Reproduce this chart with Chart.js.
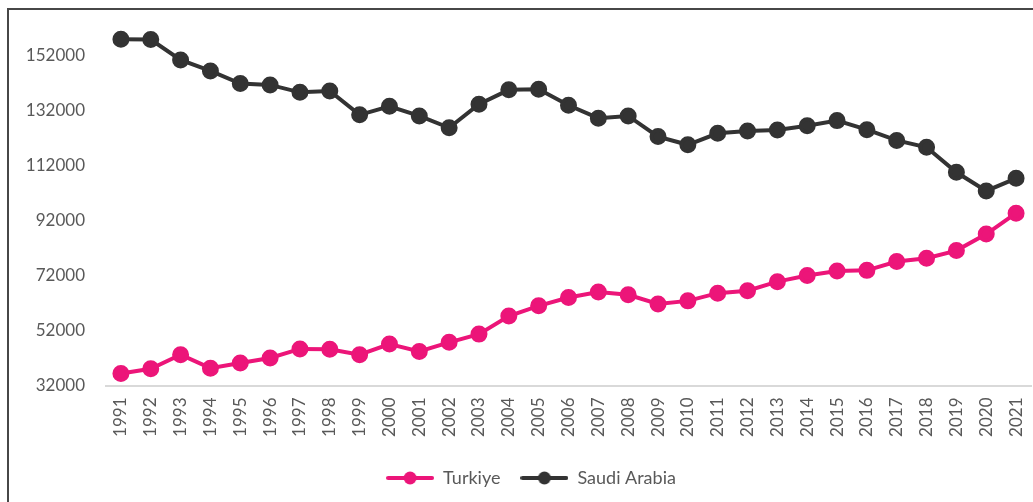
<!DOCTYPE html>
<html>
<head>
<meta charset="utf-8">
<script src="https://cdn.jsdelivr.net/npm/chart.js@4/dist/chart.umd.min.js"></script>
<style>
html,body{margin:0;padding:0;background:#fff;overflow:hidden;}
#wrap{position:relative;width:1033px;height:502px;overflow:hidden;}
canvas{display:block;}
</style>
</head>
<body>
<div id="wrap"><canvas id="c" width="1033" height="502"></canvas></div>
<script>
const years = ['1991','1992','1993','1994','1995','1996','1997','1998','1999','2000','2001','2002','2003','2004','2005','2006','2007','2008','2009','2010','2011','2012','2013','2014','2015','2016','2017','2018','2019','2020','2021'];
const turkiye = [36400,38100,43200,38300,40200,42000,45300,45200,43200,47100,44400,47700,50700,57300,61000,64000,66000,65000,61700,62800,65600,66500,69800,72000,73700,73900,77100,78300,81100,87100,94700];
const saudiArabia = [158000,157900,150500,146500,141900,141400,138700,139200,130500,133600,130100,125800,134400,139600,139800,134000,129300,130100,122600,119600,123800,124600,125000,126500,128400,125100,121200,118700,109600,102800,107400];
const yTicks = [32000,52000,72000,92000,112000,132000,152000];

const PINK = '#EC1579';
const DARK = '#333333';
const FONT = 'Lato, "Open Sans", sans-serif';

function legendIcon(color){
  const cv = document.createElement('canvas');
  cv.width = 48; cv.height = 16;
  const g = cv.getContext('2d');
  g.strokeStyle = color; g.lineWidth = 4; g.lineCap = 'round';
  g.beginPath(); g.moveTo(2,8); g.lineTo(46,8); g.stroke();
  g.fillStyle = color;
  g.beginPath(); g.arc(24,8,6.5,0,Math.PI*2); g.fill();
  return cv;
}

const frame = {
  id:'frame',
  beforeDraw(chart){
    const ctx = chart.ctx;
    ctx.save();
    ctx.fillStyle='#fff';
    ctx.fillRect(0,0,chart.width,chart.height);
    ctx.strokeStyle='#474747';
    ctx.lineWidth=2;
    ctx.beginPath();
    ctx.moveTo(8,chart.height);
    ctx.lineTo(8,9);
    ctx.lineTo(chart.width,9);
    ctx.stroke();
    ctx.restore();
  }
};

// pin the plot area to the reference's geometry
const fixArea = {
  id:'fixArea',
  afterLayout(chart){
    const L = 106, R = 1031, T = 28.3, B = 385.5;
    const ca = chart.chartArea;
    ca.left = L; ca.right = R; ca.top = T; ca.bottom = B;
    ca.width = R - L; ca.height = B - T;
    const x = chart.scales.x, y = chart.scales.y;
    x.left = L; x.right = R; x.width = R - L; x.top = B; x.bottom = B + 69; x.height = 69;
    y.top = T; y.bottom = B; y.height = B - T; y.left = L - 96; y.right = L; y.width = 96;
    [x, y].forEach(s => { s.configure(); s._labelItems = null; s._gridLineItems = null; });
  }
};

new Chart(document.getElementById('c'), {
  type:'line',
  data:{
    labels: years,
    datasets:[
      {label:'Turkiye', data:turkiye, borderColor:PINK, backgroundColor:PINK, pointBackgroundColor:PINK, pointBorderColor:PINK, borderWidth:4, pointRadius:6.5, pointHoverRadius:6.5, pointStyle:'circle', tension:0},
      {label:'Saudi Arabia', data:saudiArabia, borderColor:DARK, backgroundColor:DARK, pointBackgroundColor:DARK, pointBorderColor:DARK, borderWidth:4, pointRadius:6.5, pointHoverRadius:6.5, pointStyle:'circle', tension:0}
    ]
  },
  options:{
    responsive:false,
    animation:false,
    devicePixelRatio:1,
    layout:{padding:{left:29,right:0,top:9,bottom:5}},
    plugins:{
      legend:{
        position:'bottom',
        labels:{
          usePointStyle:true,
          pointStyleWidth:48,
          padding:20,
          color:'#595959',
          font:{family:FONT,size:18},
          generateLabels(chart){
            return chart.data.datasets.map((d,i)=>({
              text:d.label, fillStyle:d.borderColor, strokeStyle:d.borderColor,
              lineWidth:0, pointStyle:legendIcon(d.borderColor), hidden:false, datasetIndex:i, fontColor:'#595959'
            }));
          }
        }
      },
      tooltip:{enabled:false}
    },
    scales:{
      x:{
        offset:true,
        grid:{display:false, drawTicks:false},
        border:{display:true,color:'#d9d9d9',width:2},
        ticks:{color:'#595959',font:{family:FONT,size:17},maxRotation:90,minRotation:90,padding:12,autoSkip:false},
        afterFit(s){ s.height = 69; }
      },
      y:{
        min:32000, max:162000,
        grid:{display:false, drawTicks:false},
        border:{display:false},
        afterBuildTicks(s){ s.ticks = yTicks.map(v=>({value:v})); },
        ticks:{color:'#595959',font:{family:FONT,size:17},padding:21,callback:(v)=>String(v)},
        afterFit(s){ s.width = 96; }
      }
    }
  },
  plugins:[frame, fixArea]
});
</script>
</body>
</html>
